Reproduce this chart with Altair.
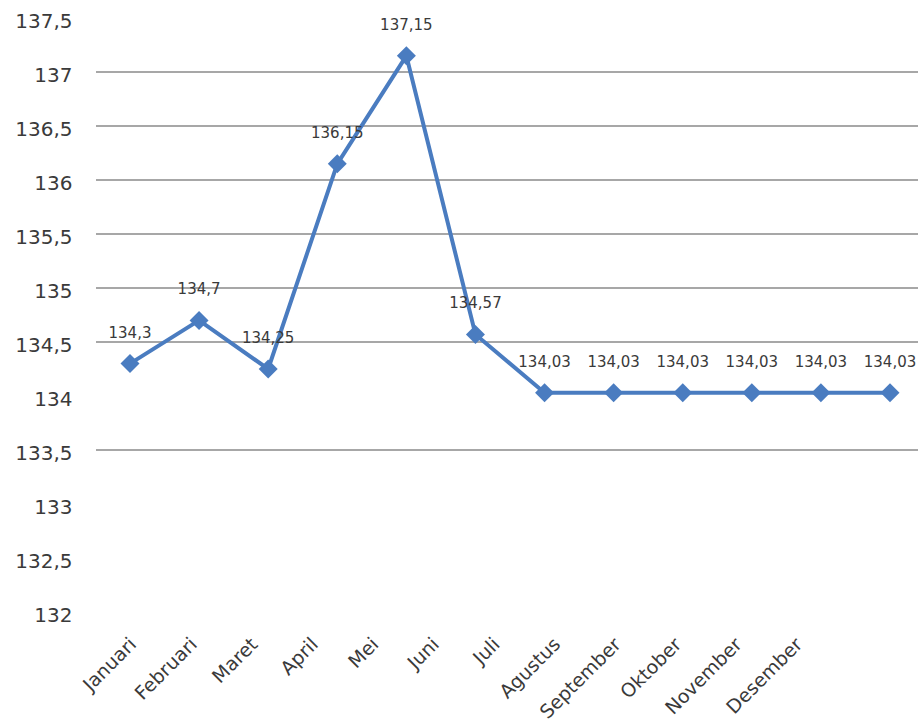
import altair as alt
import pandas as pd

# Monthly values and their category labels
months = ["Januari", "Februari", "Maret", "April", "Mei", "Juni",
          "Juli", "Agustus", "September", "Oktober", "November", "Desember"]
values = [134.3, 134.7, 134.25, 136.15, 137.15, 134.57,
          134.03, 134.03, 134.03, 134.03, 134.03, 134.03]
grid_values = [133.5, 134.5, 135, 135.5, 136, 136.5, 137]
y_ticks = [132, 132.5, 133, 133.5, 134, 134.5, 135, 135.5, 136, 136.5, 137, 137.5]

df = pd.DataFrame({
    "month": months,
    "value": values,
    "label": [str(v).replace(".", ",") for v in values],
})
grid_df = pd.DataFrame({"g": grid_values})

BLUE = "#4a7cc0"
TEXT = "#3a3a3a"
FONT = "DejaVu Sans"

y_scale = alt.Scale(domain=[132, 137.5], nice=False, zero=False)
x_scale = alt.Scale(type="point", domain=months, range=[34, 794], padding=0)

grid = alt.Chart(grid_df).mark_rule(color="#8a8a8a", strokeWidth=1.5).encode(
    y=alt.Y("g:Q", scale=y_scale,
            axis=alt.Axis(values=y_ticks, grid=False, ticks=False, domain=False,
                          labelExpr="replace(format(datum.value, '.1~f'), '.', ',')",
                          labelFont=FONT, labelFontSize=20, labelColor=TEXT,
                          labelPadding=24, labelOffset=3, title=None))
)

line = alt.Chart(df).mark_line(color=BLUE, strokeWidth=4).encode(
    x=alt.X("month:N", scale=x_scale, sort=months, axis=None),
    y=alt.Y("value:Q", scale=y_scale),
)

points = alt.Chart(df).mark_point(shape="diamond", filled=True, opacity=1,
                                  color=BLUE, size=360).encode(
    x=alt.X("month:N", scale=x_scale, sort=months, axis=None),
    y=alt.Y("value:Q", scale=y_scale),
)

value_labels = alt.Chart(df).mark_text(font=FONT, fontSize=15, color=TEXT,
                                       dy=-31).encode(
    x=alt.X("month:N", scale=x_scale, sort=months, axis=None),
    y=alt.Y("value:Q", scale=y_scale),
    text="label:N",
)

month_labels = alt.Chart(df).mark_text(font=FONT, fontSize=19, color=TEXT,
                                       angle=315, align="right",
                                       baseline="top").encode(
    x=alt.X("month:N", sort=months, axis=None,
            scale=alt.Scale(type="point", domain=months, range=[31, 697],
                            padding=0)),
    y=alt.value(617),
    text="month:N",
)

data_layers = alt.layer(grid, line, points, value_labels)

chart = alt.layer(data_layers, month_labels).resolve_scale(
    x="independent"
).properties(
    width=822,
    height=594,
    autosize=alt.AutoSizeParams(type="none"),
    padding={"left": 96, "top": 18, "right": 0, "bottom": 116},
    background="white",
).configure_view(stroke=None)

chart.save("out.html", embed_options={"renderer": "svg", "actions": False})
